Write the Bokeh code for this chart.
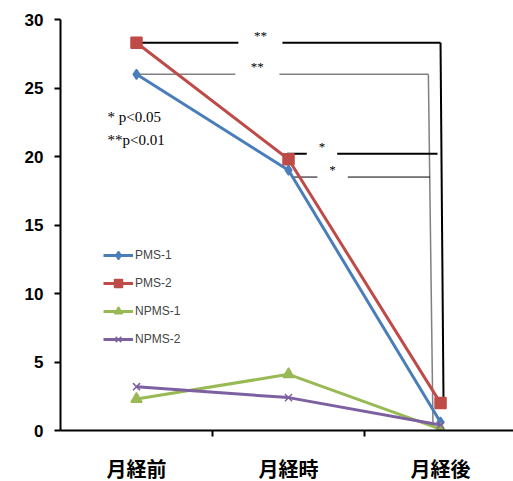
from bokeh.plotting import figure
from bokeh.models import FixedTicker, Legend, LegendItem, Range1d
from bokeh.core.properties import value
from bokeh.embed import file_html
from bokeh.resources import INLINE

categories = ["月経前", "月経時", "月経後"]
pms1 = [26.0, 19.0, 0.6]
pms2 = [28.3, 19.8, 2.0]
npms1 = [2.3, 4.1, 0.1]
npms2 = [3.2, 2.4, 0.4]
y_ticks = [0, 5, 10, 15, 20, 25, 30]

# significance brackets: level, x start, x end, gap start, gap end, label, bottom level
brackets = [
    dict(y=28.3, x0=0.5, x1=2.5, x1b=2.52, yb=1.7, g0=1.17, g1=1.46, lab="**", color="black", w=2),
    dict(y=26.0, x0=0.5, x1=2.42, x1b=2.45, yb=0.6, g0=1.15, g1=1.44, lab="**", color="#808080", w=1.5),
    dict(y=20.2, x0=1.49, x1=2.48, x1b=None, yb=None, g0=1.62, g1=1.82, lab="*", color="black", w=2),
    dict(y=18.5, x0=1.52, x1=2.43, x1b=None, yb=None, g0=1.69, g1=1.89, lab="*", color="black", w=1),
]

xs = [i + 0.5 for i in range(len(categories))]

p = figure(frame_width=453, frame_height=411, output_backend="svg", toolbar_location=None,
           x_range=Range1d(0, 2.98), y_range=Range1d(0, 30),
           min_border_left=60, min_border_right=0, min_border_top=19, min_border_bottom=45)
p.outline_line_color = None
p.grid.grid_line_color = None
p.background_fill_color = "white"

p.xaxis.ticker = FixedTicker(ticks=xs, minor_ticks=[1, 2])
p.xaxis.major_label_overrides = {x: c for x, c in zip(xs, categories)}
p.xaxis.major_tick_out = 0
p.xaxis.major_tick_in = 0
p.xaxis.minor_tick_out = 6
p.xaxis.minor_tick_in = 0
p.xaxis.minor_tick_line_width = 2
p.xaxis.axis_line_width = 2
p.xaxis.major_label_text_font = "Noto Sans CJK JP"
p.xaxis.major_label_text_font_size = "20px"
p.xaxis.major_label_text_font_style = "bold"
p.xaxis.major_label_text_color = "black"
p.xaxis.major_label_standoff = 17

p.yaxis.ticker = FixedTicker(ticks=y_ticks, minor_ticks=[])
p.yaxis.major_tick_out = 6
p.yaxis.major_tick_in = 0
p.yaxis.major_tick_line_width = 2
p.yaxis.axis_line_width = 2
p.yaxis.major_label_text_font = "Liberation Sans"
p.yaxis.major_label_text_font_style = "bold"
p.yaxis.major_label_text_font_size = "17px"
p.yaxis.major_label_text_color = "black"
p.yaxis.major_label_standoff = 11

# brackets
for b in brackets:
    p.line([b["x0"], b["g0"]], [b["y"], b["y"]], line_color=b["color"], line_width=b["w"])
    p.line([b["g1"], b["x1"]], [b["y"], b["y"]], line_color=b["color"], line_width=b["w"])
    if b["x1b"] is not None:
        p.line([b["x1"], b["x1b"]], [b["y"], b["yb"]], line_color=b["color"], line_width=b["w"])
    p.text([(b["g0"] + b["g1"]) / 2], [b["y"]], text=[b["lab"]], text_align="center",
           text_baseline="bottom", text_font=value("Liberation Serif"),
           text_font_size="13px", text_color="black")

p.text([0.31, 0.31], [22.9, 21.2], text=["*  p<0.05", "**p<0.01"], text_align="left",
       text_baseline="middle", text_font=value("Liberation Serif"), text_font_size="15px",
       text_color="black")

series = [
    ("PMS-1", pms1, "#4a7ebb", "diamond", 10),
    ("PMS-2", pms2, "#be4b48", "square", 11),
    ("NPMS-1", npms1, "#98b954", "triangle", 11),
    ("NPMS-2", npms2, "#7d60a0", "x", 10),
]
items = []
for name, ys, col, mk, sz in series:
    r1 = p.line(xs, ys, line_color=col, line_width=3)
    r2 = p.scatter(xs, ys, marker=mk, size=sz, fill_color=col, line_color=col, line_width=1.5)
    items.append(LegendItem(label=name, renderers=[r1, r2]))

legend = Legend(items=items, location=(43, 81), padding=0, margin=0, spacing=8,
                glyph_width=30, glyph_height=20, label_height=20,
                label_text_font="Liberation Sans", label_text_font_size="12px",
                label_standoff=2, border_line_color=None, background_fill_alpha=0)
p.add_layout(legend, "center")

open("out.html", "w").write(file_html(p, INLINE))
